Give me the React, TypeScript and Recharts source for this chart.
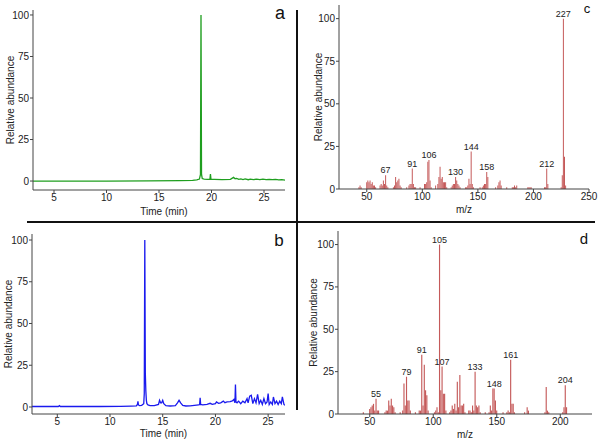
import React from 'react';
import { LineChart, Line, XAxis, YAxis, BarChart, Bar, LabelList } from 'recharts';

// chromatogram a (green)
const timeA = [3, 6, 10, 14, 17, 18.2, 18.6, 18.85, 18.95, 19.0,
  19.05, 19.12, 19.3, 19.6, 19.85, 19.9, 19.95, 20.3, 21, 21.8,
  22.1, 22.25, 22.4, 22.6, 22.8, 23.0, 23.2, 23.5, 23.7, 24.0,
  24.3, 24.6, 24.9, 25.2, 25.5, 25.8, 26.1, 26.4, 26.7, 27];
const abundA = [0, 0, 0, 0.1, 0.2, 0.4, 0.7, 1.2, 4, 100,
  4, 1.5, 1.2, 1, 1, 4.2, 1, 1, 0.9, 1,
  2.2, 1.4, 1.6, 1, 1.3, 0.9, 1.3, 0.8, 1.2, 0.9,
  1.1, 0.8, 1.1, 0.8, 1, 0.8, 1, 0.7, 0.9, 0.5];

// chromatogram b (blue)
const timeB = [2.6, 4, 5.1, 5.2, 5.3, 7, 9, 11, 12.0, 12.5,
  12.6, 12.65, 12.7, 12.8, 13.0, 13.2, 13.25, 13.3, 13.35, 13.4,
  13.45, 13.5, 13.6, 13.8, 14.2, 14.6, 14.7, 14.8, 14.9, 15.0,
  15.1, 15.3, 15.7, 16.2, 16.4, 16.55, 16.7, 16.9, 17.2, 17.6,
  18.0, 18.4, 18.5, 18.55, 18.6, 18.8, 19.2, 19.5, 19.7, 20.0,
  20.1, 20.3, 20.5, 20.75, 20.9, 21.1, 21.4, 21.6, 21.75, 21.85,
  21.9, 21.95, 22.05, 22.2, 22.4, 22.6, 22.8, 23.0, 23.1, 23.25,
  23.4, 23.55, 23.7, 23.85, 24.0, 24.15, 24.3, 24.45, 24.6, 24.75,
  24.9, 25.0, 25.1, 25.25, 25.4, 25.5, 25.65, 25.8, 25.95, 26.1,
  26.25, 26.35, 26.5, 26.6];
const abundB = [0.3, 0.3, 0.3, 0.8, 0.3, 0.3, 0.3, 0.4, 0.5, 0.6,
  1.5, 3.4, 1.2, 0.8, 1, 2, 8, 100, 20, 9.5,
  4, 2, 1.2, 0.8, 0.8, 1.5, 4, 2.5, 2.5, 4,
  2, 0.8, 0.6, 0.8, 2.5, 4, 2.5, 1, 0.6, 0.7,
  1, 1.2, 1.5, 5.5, 1.5, 1.3, 1.6, 2.2, 1.6, 2,
  3, 2.2, 2.5, 3.5, 2.6, 3, 3.2, 3.6, 4.5, 2.5,
  13.5, 3, 2.5, 3.5, 2, 3.5, 2.5, 5, 2.5, 6.5,
  7, 2, 5, 2.5, 7.5, 2, 4, 1.5, 5, 2,
  3, 8, 1.5, 3, 1.5, 6, 2, 3.5, 1.5, 3.5,
  2, 6, 1.5, 1];

// mass spectrum c
const mzC = [43, 44, 45, 50, 51, 52, 53, 54, 55, 56,
  57, 58, 62, 63, 64, 65, 66, 67, 68, 69,
  74, 75, 76, 77, 78, 79, 80, 81, 86, 88,
  89, 90, 91, 92, 93, 94, 98, 102, 103, 104,
  105, 106, 107, 108, 112, 114, 115, 116, 117, 118,
  119, 120, 121, 122, 126, 127, 128, 129, 130, 131,
  132, 133, 134, 139, 140, 141, 142, 143, 144, 145,
  146, 152, 154, 155, 156, 157, 158, 159, 166, 168,
  169, 170, 171, 176, 181, 182, 183, 184, 185, 195,
  196, 197, 198, 210, 211, 212, 213, 225, 226, 227,
  228, 229];
const intC = [1, 2, 1, 4, 5, 4, 5, 3, 4, 2,
  2, 1, 2, 3, 2, 5, 3, 8, 2, 1,
  1, 2, 7, 4, 5, 6, 2, 1, 1, 2,
  3, 3, 12, 3, 1, 1, 1, 3, 3, 4,
  16, 17, 5, 1, 2, 3, 7, 13, 6, 7,
  4, 4, 4, 1, 1, 2, 3, 3, 7, 5,
  3, 2, 1, 1, 1, 2, 6, 3, 22, 3,
  1, 1, 1, 2, 3, 3, 10, 7, 1, 2,
  4, 5, 2, 1, 1, 1, 2, 1, 2, 1,
  1, 1, 1, 1, 1, 12, 3, 1, 8, 100,
  19, 2];
const tagsC = [67, 91, 106, 130, 144, 158, 212, 227];

// mass spectrum d
const mzD = [45, 50, 51, 52, 53, 54, 55, 56, 57, 62,
  63, 64, 65, 66, 67, 68, 69, 70, 74, 76,
  77, 78, 79, 80, 81, 82, 86, 89, 90, 91,
  92, 93, 94, 95, 96, 101, 102, 103, 104, 105,
  106, 107, 108, 109, 110, 113, 114, 115, 116, 117,
  118, 119, 120, 121, 122, 123, 124, 125, 128, 129,
  130, 131, 132, 133, 134, 135, 136, 137, 141, 144,
  145, 146, 147, 148, 149, 150, 155, 158, 159, 160,
  161, 162, 163, 164, 172, 174, 175, 188, 189, 190,
  191, 202, 203, 204, 205];
const intD = [1, 3, 4, 5, 6, 2, 9, 2, 2, 1,
  2, 2, 8, 5, 9, 5, 4, 1, 1, 2,
  18, 5, 22, 8, 8, 2, 1, 2, 2, 35,
  5, 29, 14, 11, 2, 1, 2, 4, 1, 100,
  14, 28, 12, 12, 2, 1, 2, 5, 3, 6,
  2, 19, 4, 23, 5, 5, 6, 1, 2, 2,
  1, 5, 2, 25, 5, 4, 5, 1, 1, 1,
  5, 2, 15, 15, 8, 2, 1, 1, 2, 1,
  32, 6, 6, 1, 1, 4, 2, 1, 16, 2,
  1, 1, 4, 17, 4];
const tagsD = [55, 79, 91, 105, 107, 133, 148, 161, 204];

const timeTicks = [5, 10, 15, 20, 25];
const abundTicks = [0, 25, 50, 75, 100];
const mzTicksC = [50, 100, 150, 200, 250];
const mzTicksD = [50, 100, 150, 200];

const dataA = timeA.map((t, i) => ({ t, v: abundA[i] }));
const dataB = timeB.map((t, i) => ({ t, v: abundB[i] }));
const dataC = mzC.map((mz, i) => ({ mz, v: intC[i], tag: tagsC.includes(mz) ? String(mz) : '' }));
const dataD = mzD.map((mz, i) => ({ mz, v: intD[i], tag: tagsD.includes(mz) ? String(mz) : '' }));

const axisColor = '#444';
const textColor = '#222';
const tickStyle = { fill: textColor, fontSize: 10 };
const barColor = '#c55a5a';

const yLabel = (offset: number) => ({
  value: 'Relative abundance',
  angle: -90,
  position: 'insideLeft' as const,
  offset,
  textAnchor: 'middle',
  style: { textAnchor: 'middle', fontSize: 10, fill: textColor },
});

const xLabel = (value: string, offset: number, dx = 0) => ({
  value,
  position: 'insideBottom' as const,
  offset,
  dx,
  style: { fontSize: 10, fill: textColor },
});

const renderTag = (props: any) => {
  const { x, y, width, value } = props;
  if (!value) return null;
  return (
    <text x={Number(x) + Number(width) / 2} y={Number(y) - 2} textAnchor="middle" fontSize={9} fill={textColor}>
      {value}
    </text>
  );
};

const Chromatogram = ({ data, color, domainX, domainY, margin, xHeight, yOffset, xOffset }: any) => (
  <LineChart width={300} height={221} data={data} margin={margin}>
    <XAxis
      dataKey="t"
      type="number"
      domain={domainX}
      ticks={timeTicks}
      allowDataOverflow
      height={xHeight}
      stroke={axisColor}
      tickSize={3}
      tickMargin={1}
      tick={tickStyle}
      label={xLabel('Time (min)', xOffset, 5)}
    />
    <YAxis
      type="number"
      domain={domainY}
      ticks={abundTicks}
      allowDataOverflow
      width={30}
      stroke={axisColor}
      tickSize={3}
      tickMargin={1}
      tick={tickStyle}
      label={yLabel(yOffset)}
    />
    <Line type="linear" dataKey="v" stroke={color} strokeWidth={1.3} dot={false} isAnimationActive={false} />
  </LineChart>
);

const Spectrum = ({ data, domainX, ticks, margin, xHeight, yOffset, xOffset }: any) => (
  <BarChart width={300} height={221} data={data} margin={margin} barCategoryGap={0}>
    <XAxis
      dataKey="mz"
      type="number"
      domain={domainX}
      ticks={ticks}
      allowDataOverflow
      height={xHeight}
      stroke={axisColor}
      tickSize={3}
      tickMargin={1}
      tick={tickStyle}
      label={xLabel('m/z', xOffset)}
    />
    <YAxis
      type="number"
      domain={[0, 108]}
      ticks={abundTicks}
      allowDataOverflow
      width={30}
      stroke={axisColor}
      tickSize={3}
      tickMargin={1}
      tick={tickStyle}
      label={yLabel(yOffset)}
    />
    <Bar dataKey="v" fill={barColor} barSize={1.4} isAnimationActive={false}>
      <LabelList dataKey="tag" content={renderTag} />
    </Bar>
  </BarChart>
);

export default function App() {
  return (
    <div
      style={{
        position: 'absolute',
        left: 0,
        top: 0,
        width: 600,
        height: 442,
        background: '#fff',
        fontFamily: '"Liberation Sans", Arial, sans-serif',
      }}
    >
      <div style={{ position: 'absolute', left: 0, top: 0 }}>
        <Chromatogram
          data={dataA}
          color="#1f9e1f"
          domainX={[3, 27]}
          domainY={[-5.4, 103]}
          margin={{ top: 10, right: 15, bottom: 0, left: 3 }}
          xHeight={31}
          yOffset={7}
          xOffset={6}
        />
      </div>
      <div style={{ position: 'absolute', left: 0, top: 221 }}>
        <Chromatogram
          data={dataB}
          color="#1a1aee"
          domainX={[2.6, 26.6]}
          domainY={[-4.2, 103.6]}
          margin={{ top: 13, right: 15, bottom: 0, left: 2 }}
          xHeight={28}
          yOffset={6}
          xOffset={5}
        />
      </div>
      <div style={{ position: 'absolute', left: 300, top: 0 }}>
        <Spectrum
          data={dataC}
          domainX={[25, 250]}
          ticks={mzTicksC}
          margin={{ top: 5, right: 11, bottom: 0, left: 9 }}
          xHeight={32}
          yOffset={9}
          xOffset={8}
        />
      </div>
      <div style={{ position: 'absolute', left: 300, top: 221 }}>
        <Spectrum
          data={dataD}
          domainX={[25, 225]}
          ticks={mzTicksD}
          margin={{ top: 10, right: 8, bottom: 0, left: 8 }}
          xHeight={28}
          yOffset={5}
          xOffset={4}
        />
      </div>
      <svg width={600} height={442} style={{ position: 'absolute', left: 0, top: 0, pointerEvents: 'none' }}>
        <line x1={27} y1={222} x2={595} y2={222} stroke="#111" strokeWidth={2} />
        <line x1={297} y1={10} x2={297} y2={410} stroke="#111" strokeWidth={2} />
        <text x={280} y={19} textAnchor="middle" fontSize={18} fill="#111">a</text>
        <text x={279} y={246} textAnchor="middle" fontSize={17} fill="#111">b</text>
        <text x={587} y={13} textAnchor="middle" fontSize={13} fill="#111">c</text>
        <text x={584} y={244} textAnchor="middle" fontSize={15} fill="#111">d</text>
      </svg>
    </div>
  );
}
